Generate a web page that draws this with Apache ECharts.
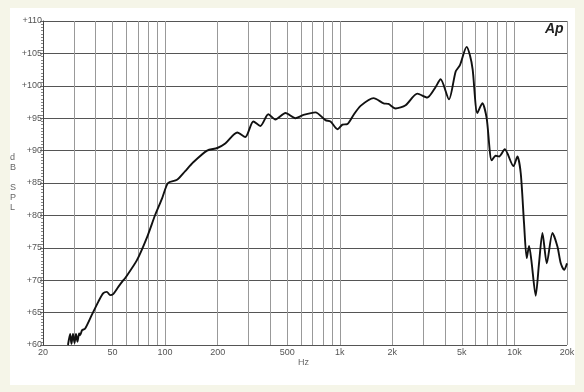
<!DOCTYPE html>
<html>
<head>
<meta charset="utf-8">
<style>
  html, body { margin: 0; padding: 0; background: #f5f5e8; }
  #chart { width: 584px; height: 392px; }
</style>
<script src="https://cdn.jsdelivr.net/npm/echarts@6.0.0/dist/echarts.min.js"></script>
</head>
<body>
<div id="chart"></div>
<script>
// Frequency (Hz) and SPL (dB)
const freqs = [27.8, 28.6, 29.1, 29.7, 30.3, 30.9, 31.5, 32.2, 32.6, 33.5, 34.8, 38.0, 41.5, 44.3, 46.4, 48.5, 50.6, 54.1, 57.7, 59,
  69, 79, 87.8, 96, 104, 117, 130, 145, 174, 199, 221, 259, 288, 320, 351, 390, 428, 489, 557, 620, 726, 828, 885, 971,
  1036, 1107, 1199, 1316, 1561, 1782, 1901, 2086, 2382, 2779, 3170, 3500, 3780, 4220, 4610, 4877, 5327, 5563, 5768,
  6134, 6551, 6935, 7410, 7815, 8170, 8800, 9870, 10400, 10870, 11350, 11760, 12130, 12500, 13240, 13830, 14470,
  15320, 16520, 17630, 18420, 19250, 20000];
const spl = [60.0, 61.7, 60.2, 61.7, 60.3, 61.7, 60.5, 61.8, 61.5, 62.3, 62.5, 64.6, 66.7, 68.0, 68.2, 67.7, 67.9, 69.0, 70.0, 70.3,
  73.1, 76.7, 80.1, 82.6, 85.0, 85.5, 86.8, 88.2, 90.0, 90.4, 91.1, 92.8, 92.1, 94.5, 93.8, 95.6, 94.8, 95.8, 95.0, 95.5, 95.9, 94.7, 94.5, 93.3,
  94.0, 94.1, 95.5, 96.9, 98.1, 97.3, 97.2, 96.5, 97.0, 98.8, 98.2, 99.6, 101.0, 97.9, 102.2, 103.2, 106.0, 104.7, 102.5,
  95.8, 97.3, 95.0, 88.5, 89.2, 89.1, 90.2, 87.6, 89.1, 86.5, 78.8, 73.4, 75.3, 73.1, 67.6, 72.6, 77.3,
  72.6, 77.3, 75.2, 72.6, 71.6, 72.6];

// Vertical grid lines and labelled frequency ticks
const gridFreqs = [30, 40, 50, 60, 70, 80, 90, 100, 200, 300, 400, 500, 600, 700, 800, 900,
  1000, 2000, 3000, 4000, 5000, 6000, 7000, 8000, 9000, 10000, 20000];
const tickFreqs = [20, 50, 100, 200, 500, 1000, 2000, 5000, 10000, 20000];
const tickLabels = ['20', '50', '100', '200', '500', '1k', '2k', '5k', '10k', '20k'];

const chart = echarts.init(document.getElementById('chart'), null, { renderer: 'canvas' });

const gridLineData = gridFreqs.map(f => ({ xAxis: f, label: { show: false } }));
const labelLineData = tickFreqs.map((f, i) => ({
  xAxis: f,
  lineStyle: { color: 'rgba(0,0,0,0)' },
  label: { show: true, formatter: tickLabels[i], color: '#555' }
}));

const option = {
  backgroundColor: '#f5f5e8',
  animation: false,
  graphic: [
    { type: 'rect', z: -10, shape: { x: 10, y: 8, width: 565, height: 377 }, style: { fill: '#ffffff' } },
    { type: 'text', left: 545, top: 22, style: { text: 'Ap', font: 'bold italic 14px "Liberation Sans"', fill: '#222' } },
    { type: 'text', left: 298, top: 358, style: { text: 'Hz', font: '9px "Liberation Sans"', fill: '#666' } },
    { type: 'text', left: 10, top: 153, style: { text: 'd\nB\n\nS\nP\nL', font: '9px "Liberation Sans"', fill: '#666', lineHeight: 10, align: 'left' } }
  ],
  grid: { left: 43, top: 21, width: 524, height: 324, containLabel: false },
  xAxis: {
    type: 'log',
    logBase: 10,
    min: 20,
    max: 20000,
    axisLine: { show: false },
    axisTick: { show: false },
    axisLabel: { show: false },
    splitLine: { show: false },
    minorTick: { show: false },
    minorSplitLine: { show: false }
  },
  yAxis: {
    type: 'value',
    min: 60,
    max: 110,
    interval: 5,
    axisLine: { show: true, lineStyle: { color: '#444', width: 1 } },
    axisTick: { show: true, length: 3, inside: false, lineStyle: { color: '#666' } },
    minorTick: { show: true, splitNumber: 10, length: 2, lineStyle: { color: '#888' } },
    axisLabel: {
      formatter: v => '+' + v,
      fontSize: 9,
      color: '#555',
      fontFamily: 'Liberation Sans',
      margin: 1
    },
    splitLine: { show: true, lineStyle: { color: '#555', width: 1 } }
  },
  series: [{
    type: 'line',
    data: freqs.map((f, i) => [f, spl[i]]),
    showSymbol: false,
    smooth: 0.25,
    lineStyle: { color: '#111', width: 1.9 },
    z: 5,
    markLine: {
      silent: true,
      symbol: ['none', 'none'],
      animation: false,
      lineStyle: { color: '#999', width: 1, type: 'solid' },
      label: { position: 'start', distance: 3, fontSize: 9, color: '#555', fontFamily: 'Liberation Sans' },
      data: gridLineData.concat(labelLineData),
      z: 1
    }
  }]
};

chart.setOption(option);
</script>
</body>
</html>
